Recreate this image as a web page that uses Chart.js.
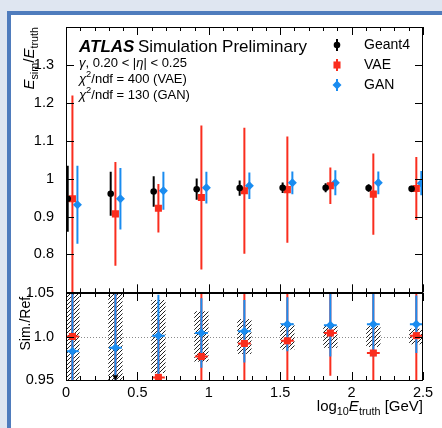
<!DOCTYPE html>
<html>
<head>
<meta charset="utf-8">
<script src="https://cdn.jsdelivr.net/npm/chart.js@4"></script>
<style>
  html, body { margin: 0; padding: 0; }
  body { width: 442px; height: 428px; background: #dfe6f1; position: relative; overflow: hidden; }
  #frame { position: absolute; left: 7px; top: 11px; width: 470px; height: 460px; border: 4px solid #4f7cbd; background: #fff; }
  canvas { position: absolute; left: 0; }
  #upper { top: 0; }
  #lower { top: 280px; }
</style>
</head>
<body>
<div id="frame"></div>
<canvas id="upper" width="442" height="305"></canvas>
<canvas id="lower" width="442" height="148"></canvas>
<script>
// photon energies (GeV), plotted as log10
const energies = [1, 2, 4, 8, 16, 32, 64, 128, 256];
const logE = energies.map(e => Math.log10(e));

// E_sim / E_truth response
const geantMean = [0.947, 0.960, 0.966, 0.972, 0.975, 0.976, 0.976, 0.975, 0.973];
const geantErr  = [0.087, 0.058, 0.040, 0.028, 0.020, 0.014, 0.012, 0.010, 0.008];
const vaeMean   = [0.947, 0.907, 0.922, 0.950, 0.968, 0.971, 0.981, 0.959, 0.974];
const vaeErr    = [0.272, 0.137, 0.064, 0.190, 0.166, 0.140, 0.048, 0.107, 0.083];
const ganMean   = [0.931, 0.947, 0.968, 0.976, 0.981, 0.989, 0.989, 0.989, 0.988];
const ganErr    = [0.103, 0.081, 0.050, 0.042, 0.035, 0.030, 0.033, 0.030, 0.032];

// ratios to Geant4
const vaeRatio    = [1.000, 0.945, 0.953, 0.977, 0.992, 0.995, 1.004, 0.981, 1.001];
const vaeRatioErr = [0.285, 0.143, 0.066, 0.195, 0.170, 0.143, 0.049, 0.110, 0.085];
const ganRatio    = [0.983, 0.987, 1.001, 1.004, 1.006, 1.014, 1.013, 1.014, 1.014];
const ganRatioErr = [0.105, 0.083, 0.047, 0.040, 0.036, 0.031, 0.036, 0.037, 0.033];
const geantRelErr = [0.092, 0.060, 0.042, 0.029, 0.020, 0.015, 0.013, 0.012, 0.009];

const RATIO_MIN = 0.95, RATIO_MAX = 1.05;

const FONT = '"Liberation Sans", Arial, Helvetica, sans-serif';
const BLACK = '#000000';
const RED = '#fa2d1e';
const BLUE = '#1a8cf0';

function series(label, mean, err, dx, color, style, radius, yAxisID, errX) {
  return {
    label: label,
    data: logE.map((x, i) => ({ x: x + dx, y: mean[i] })),
    errY: err,
    errX: errX,
    yAxisID: yAxisID,
    pointStyle: style,
    pointRadius: radius,
    pointBackgroundColor: color,
    pointBorderWidth: 0,
    borderColor: color,
    clip: 0
  };
}

// vertical (and optional horizontal) error bars, drawn under the markers
const errorBars = {
  id: 'errorBars',
  beforeDatasetsDraw(chart) {
    const { ctx, chartArea: a, scales } = chart;
    ctx.save();
    ctx.beginPath();
    ctx.rect(a.left, a.top, a.right - a.left, a.bottom - a.top);
    ctx.clip();
    ctx.lineWidth = 2;
    chart.data.datasets.forEach(ds => {
      if (!ds.errY) return;
      const ys = scales[ds.yAxisID];
      ctx.strokeStyle = ds.borderColor;
      ds.data.forEach((p, i) => {
        const px = scales.x.getPixelForValue(p.x);
        ctx.beginPath();
        ctx.moveTo(px, ys.getPixelForValue(p.y - ds.errY[i]));
        ctx.lineTo(px, ys.getPixelForValue(p.y + ds.errY[i]));
        if (ds.errX) {
          const py = ys.getPixelForValue(p.y);
          ctx.moveTo(scales.x.getPixelForValue(p.x - ds.errX), py);
          ctx.lineTo(scales.x.getPixelForValue(p.x + ds.errX), py);
        }
        ctx.stroke();
      });
    });
    ctx.restore();
  }
};

// ROOT style frame with inward ticks on all four sides
function frameTicks(yId) {
  return {
    id: 'frameTicks',
    afterDraw(chart) {
      const { ctx, chartArea: a, scales } = chart;
      const x = scales.x, y = scales[yId];
      ctx.save();
      ctx.strokeStyle = '#000';
      ctx.lineWidth = 1;
      ctx.strokeRect(Math.round(a.left) + 0.5, Math.round(a.top) + 0.5,
        Math.round(a.right - a.left) - 1, Math.round(a.bottom - a.top));
      ctx.beginPath();
      for (let i = 0; i <= 25; i++) {
        const px = Math.round(x.getPixelForValue(i / 10)) + 0.5;
        const len = i % 5 === 0 ? 8 : 4;
        ctx.moveTo(px, a.top); ctx.lineTo(px, a.top + len);
        ctx.moveTo(px, a.bottom); ctx.lineTo(px, a.bottom - len);
      }
      y.ticks.forEach(t => {
        const py = Math.round(y.getPixelForValue(t.value)) + 0.5;
        ctx.moveTo(a.left, py); ctx.lineTo(a.left + 8, py);
        ctx.moveTo(a.right, py); ctx.lineTo(a.right - 8, py);
      });
      ctx.stroke();
      ctx.restore();
    }
  };
}

function fontFor(p, size) {
  const s = (p.sub || p.sup) ? size * 0.72 : size;
  return (p.it ? 'italic ' : '') + (p.bold ? 'bold ' : '') + s + 'px ' + FONT;
}

// text with italics, subscripts and superscripts
function drawRich(ctx, parts, x, y, size, align) {
  let w = 0;
  parts.forEach(p => { ctx.font = fontFor(p, size); w += ctx.measureText(p.t).width; });
  let cx = align === 'right' ? x - w : x;
  ctx.textAlign = 'left';
  ctx.textBaseline = 'alphabetic';
  parts.forEach(p => {
    ctx.font = fontFor(p, size);
    const dy = p.sub ? size * 0.3 : p.sup ? -size * 0.4 : 0;
    ctx.fillText(p.t, cx, y + dy);
    cx += ctx.measureText(p.t).width;
  });
}

function drawMarker(ctx, style, x, y, r) {
  ctx.beginPath();
  if (style === 'circle') {
    ctx.arc(x, y, r, 0, Math.PI * 2);
  } else if (style === 'rect') {
    const s = Math.SQRT1_2 * r;
    ctx.rect(x - s, y - s, 2 * s, 2 * s);
  } else {
    ctx.moveTo(x - r, y); ctx.lineTo(x, y - r); ctx.lineTo(x + r, y); ctx.lineTo(x, y + r);
    ctx.closePath();
  }
  ctx.fill();
}

const upperText = {
  id: 'upperText',
  afterDraw(chart) {
    const ctx = chart.ctx;
    ctx.save();
    ctx.fillStyle = '#000';
    drawRich(ctx, [{ t: 'ATLAS', it: true, bold: true }], 79, 51.5, 17);
    drawRich(ctx, [{ t: 'Simulation Preliminary' }], 138, 51.5, 17);
    drawRich(ctx, [{ t: 'γ', it: true }, { t: ', 0.20 < |' }, { t: 'η', it: true }, { t: '| < 0.25' }], 79, 66.5, 13);
    drawRich(ctx, [{ t: 'χ', it: true }, { t: '2', sup: true }, { t: '/ndf = 400 (VAE)' }], 79, 82.5, 13);
    drawRich(ctx, [{ t: 'χ', it: true }, { t: '2', sup: true }, { t: '/ndf = 130 (GAN)' }], 79, 98.5, 13);

    // legend
    chart.data.datasets.forEach((ds, i) => {
      const ly = 45 + i * 20;
      ctx.strokeStyle = ds.borderColor;
      ctx.fillStyle = ds.pointBackgroundColor;
      ctx.lineWidth = 2;
      ctx.beginPath(); ctx.moveTo(337, ly - 6); ctx.lineTo(337, ly + 6); ctx.stroke();
      drawMarker(ctx, ds.pointStyle, 337, ly, ds.pointRadius);
      ctx.fillStyle = '#000';
      ctx.font = '14px ' + FONT;
      ctx.textAlign = 'left';
      ctx.textBaseline = 'middle';
      ctx.fillText(ds.label, 364, ly);
    });

    // y title
    ctx.fillStyle = '#000';
    ctx.translate(33.5, 27);
    ctx.rotate(-Math.PI / 2);
    drawRich(ctx, [{ t: 'E', it: true }, { t: 'sim', sub: true }, { t: '/' }, { t: 'E', it: true }, { t: 'truth', sub: true }], 0, 0, 15, 'right');
    ctx.restore();
  }
};

function hatchPattern(ctx) {
  const c = document.createElement('canvas');
  c.width = c.height = 4;
  const g = c.getContext('2d');
  g.strokeStyle = '#222';
  g.lineWidth = 1;
  g.beginPath();
  g.moveTo(0, 4); g.lineTo(4, 0);
  g.moveTo(-1, 1); g.lineTo(1, -1);
  g.moveTo(3, 5); g.lineTo(5, 3);
  g.stroke();
  return ctx.createPattern(c, 'repeat');
}

// Geant4 uncertainty band around unity and the dotted reference line
const refBand = {
  id: 'refBand',
  beforeDatasetsDraw(chart) {
    const { ctx, chartArea: a, scales } = chart;
    const x = scales.x, y = scales.yr;
    ctx.save();
    ctx.beginPath();
    ctx.rect(a.left, a.top, a.right - a.left, a.bottom - a.top);
    ctx.clip();
    ctx.strokeStyle = '#8a8a8a';
    ctx.lineWidth = 1;
    ctx.setLineDash([1, 2]);
    const py = Math.round(y.getPixelForValue(1)) + 0.5;
    ctx.beginPath(); ctx.moveTo(a.left, py); ctx.lineTo(a.right, py); ctx.stroke();
    ctx.setLineDash([]);
    ctx.fillStyle = hatchPattern(ctx);
    logE.forEach((lx, i) => {
      const x0 = x.getPixelForValue(lx + 0.045 - 0.05);
      const x1 = x.getPixelForValue(lx + 0.045 + 0.05);
      const y0 = y.getPixelForValue(1 + geantRelErr[i]);
      const y1 = y.getPixelForValue(1 - geantRelErr[i]);
      ctx.fillRect(x0, y0, x1 - x0, y1 - y0);
    });
    ctx.restore();
  }
};

const lowerText = {
  id: 'lowerText',
  afterDraw(chart) {
    const ctx = chart.ctx;
    ctx.save();
    ctx.fillStyle = '#000';
    drawRich(ctx, [{ t: 'log' }, { t: '10', sub: true }, { t: 'E', it: true }, { t: 'truth', sub: true }, { t: ' [GeV]' }], 423, 130.5, 15, 'right');
    ctx.translate(29.5, 13);
    ctx.rotate(-Math.PI / 2);
    drawRich(ctx, [{ t: 'Sim./Ref.' }], 0, 0, 14, 'right');
    ctx.restore();
  }
};

const tickFont = { family: FONT, size: 14.5 };

new Chart(document.getElementById('upper'), {
  type: 'scatter',
  data: {
    datasets: [
      series('Geant4', geantMean, geantErr, 0.012, BLACK, 'circle', 3.3, 'y'),
      series('VAE', vaeMean, vaeErr, 0.045, RED, 'rect', 5, 'y'),
      series('GAN', ganMean, ganErr, 0.080, BLUE, 'rectRot', 4.5, 'y')
    ]
  },
  options: {
    responsive: false,
    animation: false,
    layout: { padding: { left: 0, right: 19, top: 27, bottom: 12 } },
    plugins: { legend: { display: false }, tooltip: { enabled: false } },
    scales: {
      x: { type: 'linear', min: 0, max: 2.5, display: false },
      y: {
        min: 0.7, max: 1.4,
        ticks: {
          stepSize: 0.1, padding: 4, color: '#000', font: tickFont, autoSkip: false,
          callback: v => (v < 0.75 || v > 1.35) ? '' : String(+v.toFixed(1))
        },
        grid: { display: false },
        border: { display: false },
        afterFit: s => { s.width = 66; }
      }
    }
  },
  plugins: [errorBars, frameTicks('y'), upperText]
});

const belowRange = logE
  .map((lx, i) => vaeRatio[i] < RATIO_MIN ? { x: lx + 0.045, y: RATIO_MIN + 0.0035 } : null)
  .filter(Boolean);

new Chart(document.getElementById('lower'), {
  type: 'scatter',
  data: {
    datasets: [
      series('VAE / Geant4', vaeRatio, vaeRatioErr, 0.045, RED, 'rect', 5, 'yr', 0.045),
      series('GAN / Geant4', ganRatio, ganRatioErr, 0.045, BLUE, 'rectRot', 4.5, 'yr', 0.045),
      {
        label: 'below range',
        data: belowRange,
        yAxisID: 'yr',
        pointStyle: 'triangle',
        rotation: 180,
        pointRadius: 3.5,
        pointBackgroundColor: BLACK,
        pointBorderWidth: 0,
        borderColor: BLACK,
        clip: 0
      }
    ]
  },
  options: {
    responsive: false,
    animation: false,
    layout: { padding: { left: 0, right: 19, top: 13, bottom: 0 } },
    plugins: { legend: { display: false }, tooltip: { enabled: false } },
    scales: {
      x: {
        type: 'linear', min: 0, max: 2.5,
        ticks: { stepSize: 0.5, padding: -4, color: '#000', font: tickFont, maxRotation: 0, autoSkip: false, callback: v => String(v) },
        grid: { display: false },
        border: { display: false },
        afterFit: s => { s.height = 48; }
      },
      yr: {
        position: 'left',
        min: RATIO_MIN, max: RATIO_MAX,
        ticks: {
          stepSize: 0.05, padding: 4, color: '#000', font: tickFont, autoSkip: false,
          callback: v => Math.abs(v - 1) < 1e-6 ? '1.0' : v.toFixed(2)
        },
        grid: { display: false },
        border: { display: false },
        afterFit: s => { s.width = 66; }
      }
    }
  },
  plugins: [refBand, errorBars, frameTicks('yr'), lowerText]
});
</script>
</body>
</html>
